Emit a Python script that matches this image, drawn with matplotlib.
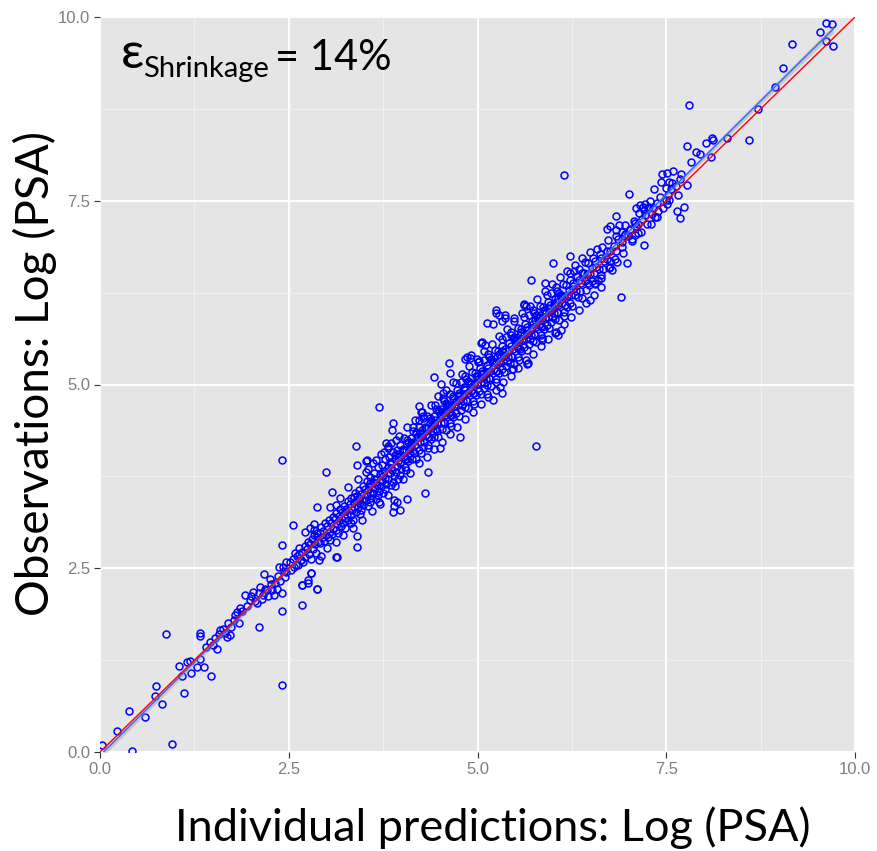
import numpy as np
import matplotlib
matplotlib.use("Agg")
import matplotlib.pyplot as plt
from matplotlib.ticker import MultipleLocator

# (individual prediction, observation) pairs, Log(PSA)
low_pts = [
    (0.03, 0.09), (0.23, 0.29), (0.38, 0.56), (0.42, 0.02), (0.60, 0.48), (0.74, 0.90),
    (0.73, 0.76), (0.82, 0.65), (0.87, 1.60), (0.96, 0.11), (1.11, 0.80), (1.04, 1.17),
    (1.09, 1.04), (1.15, 1.23), (1.19, 1.24), (1.21, 1.08), (1.28, 1.16), (1.32, 1.27),
    (1.38, 1.15), (1.47, 1.03), (1.32, 1.62), (1.33, 1.58), (1.41, 1.43), (1.46, 1.50),
    (1.52, 1.55), (1.55, 1.40), (1.59, 1.66), (1.63, 1.68), (1.68, 1.57), (1.72, 1.59),
    (1.70, 1.75), (1.77, 1.80), (1.81, 1.91), (1.85, 1.96), (1.84, 1.75), (1.92, 2.14),
    (1.99, 2.07), (2.03, 2.18), (2.08, 2.03), (2.12, 2.25), (2.16, 2.14), (2.21, 2.20),
    (2.27, 2.29), (2.30, 2.14), (2.34, 2.22), (2.37, 2.52), (2.43, 2.52), (2.45, 2.38),
    (2.41, 2.17), (2.47, 2.45), (2.11, 1.70), (2.41, 1.92), (2.41, 0.91), (2.17, 2.42),
    (2.41, 2.82), (2.41, 3.97), (1.95, 1.98), (2.00, 2.12), (2.05, 2.05), (2.10, 2.16),
    (2.14, 2.08), (2.18, 2.22), (2.22, 2.12), (2.25, 2.35), (2.28, 2.20), (2.32, 2.30),
    (2.36, 2.40), (2.39, 2.33), (2.44, 2.46), (2.46, 2.58), (1.88, 1.92), (1.79, 1.86),
    (1.74, 1.70), (1.65, 1.62), (1.50, 1.46), (1.57, 1.60),
]

mid_outliers = [
    (2.56, 3.09), (2.87, 2.22), (2.76, 2.34), (2.66, 2.61), (2.72, 3.00), (2.78, 3.05),
    (2.83, 3.10), (2.87, 2.98), (2.99, 3.81), (3.39, 4.16), (3.41, 3.91), (3.52, 3.96),
    (3.07, 3.54), (2.87, 3.34), (3.14, 2.65), (3.41, 2.79), (3.41, 2.94), (2.68, 2.27),
    (2.75, 2.30), (2.79, 2.44), (3.88, 3.27), (3.90, 3.35), (3.89, 3.43), (3.71, 3.37),
    (3.70, 4.70), (5.78, 4.16), (4.35, 3.81), (4.50, 4.13), (4.77, 4.29), (4.42, 5.10),
    (4.62, 5.29), (4.63, 5.15), (4.83, 5.35), (4.92, 5.40), (5.01, 5.31), (5.25, 5.97),
    (5.37, 5.95), (5.48, 5.90), (5.13, 5.84), (5.21, 5.82), (5.61, 6.08), (5.64, 6.07),
    (5.66, 5.28), (5.47, 5.21), (5.30, 4.97), (5.32, 4.88), (5.20, 4.79), (5.13, 4.87),
    (5.06, 5.58), (4.90, 5.36), (4.22, 4.71), (4.25, 4.63), (4.28, 4.57), (3.88, 4.48),
    (3.87, 4.38), (3.79, 4.21), (3.82, 4.17), (3.53, 3.97), (4.52, 5.01), (4.54, 4.89),
    (4.31, 3.53), (4.06, 3.44), (3.94, 3.40), (3.97, 3.29), (5.05, 5.56), (5.10, 5.54),
    (4.86, 5.37), (2.68, 2.00), (2.67, 2.27), (2.88, 2.22), (2.80, 2.44), (2.90, 2.61),
    (3.00, 2.77), (3.13, 2.65), (2.93, 2.67),
]

band_a = [
    (2.51, 2.58), (2.53, 2.47), (2.55, 2.63), (2.57, 2.52), (2.58, 2.71), (2.59, 2.55),
    (2.61, 2.66), (2.62, 2.54), (2.64, 2.78), (2.66, 2.61), (2.68, 2.72), (2.69, 2.59), (2.63, 2.69),
    (2.71, 2.80), (2.72, 2.65), (2.74, 2.76), (2.75, 2.86), (2.77, 2.70), (2.78, 2.83), (2.79, 2.62),
    (2.81, 2.90), (2.82, 2.76), (2.84, 2.95), (2.85, 2.83), (2.86, 2.71), (2.88, 2.93), (2.89, 2.86), (2.83, 3.02),
    (2.91, 2.98), (2.92, 2.84), (2.93, 3.06), (2.95, 2.92), (2.96, 3.01), (2.97, 2.87), (2.98, 3.12), (2.99, 2.95),
    (3.01, 3.08), (3.02, 2.93), (3.03, 3.15), (3.04, 3.00), (3.06, 3.11), (3.07, 2.96), (3.08, 3.20), (3.09, 3.04), (3.05, 2.88),
    (3.11, 3.17), (3.12, 3.02), (3.13, 3.25), (3.14, 3.10), (3.15, 2.98), (3.16, 3.21), (3.17, 3.14), (3.18, 3.30), (3.19, 3.08), (3.12, 3.36),
    (3.21, 3.27), (3.22, 3.12), (3.23, 3.35), (3.24, 3.19), (3.25, 3.05), (3.26, 3.31), (3.27, 3.22), (3.28, 3.41), (3.29, 3.16), (3.24, 3.28),
    (3.31, 3.38), (3.32, 3.22), (3.33, 3.46), (3.34, 3.29), (3.35, 3.15), (3.36, 3.40), (3.37, 3.33), (3.38, 3.52), (3.39, 3.26), (3.33, 3.12), (3.36, 3.47),
    (3.41, 3.48), (3.42, 3.33), (3.43, 3.57), (3.44, 3.39), (3.45, 3.24), (3.46, 3.51), (3.47, 3.43), (3.48, 3.62), (3.49, 3.36), (3.43, 3.45), (3.46, 3.29),
    (3.51, 3.58), (3.52, 3.43), (3.53, 3.69), (3.54, 3.49), (3.55, 3.35), (3.56, 3.62), (3.57, 3.53), (3.58, 3.74), (3.59, 3.46), (3.52, 3.81), (3.55, 3.56), (3.58, 3.40),
    (3.61, 3.68), (3.62, 3.52), (3.63, 3.80), (3.64, 3.59), (3.65, 3.44), (3.66, 3.72), (3.67, 3.63), (3.68, 3.88), (3.69, 3.55), (3.62, 3.93), (3.65, 3.66), (3.68, 3.49),
    (3.71, 3.78), (3.72, 3.62), (3.73, 3.90), (3.74, 3.69), (3.75, 3.53), (3.76, 3.82), (3.77, 3.73), (3.78, 3.98), (3.79, 3.65), (3.72, 4.05), (3.75, 3.76), (3.78, 3.58),
    (3.81, 3.88), (3.82, 3.71), (3.83, 4.01), (3.84, 3.79), (3.85, 3.63), (3.86, 3.92), (3.87, 3.83), (3.88, 4.08), (3.89, 3.75), (3.82, 4.14), (3.85, 3.86), (3.88, 3.68), (3.84, 3.95),
    (3.91, 3.98), (3.92, 3.81), (3.93, 4.11), (3.94, 3.89), (3.95, 3.72), (3.96, 4.02), (3.97, 3.93), (3.98, 4.18), (3.99, 3.85), (3.92, 4.24), (3.95, 3.96), (3.98, 3.77), (3.94, 4.05),
    (4.01, 4.12), (4.02, 4.01), (4.03, 4.27), (4.04, 3.88), (4.05, 4.11), (4.06, 3.98), (4.07, 4.25), (4.08, 3.96), (4.09, 4.11), (4.02, 4.11), (4.05, 3.83), (4.08, 4.22), (4.04, 3.99),
    (4.11, 4.07), (4.12, 4.27), (4.13, 3.99), (4.14, 4.22), (4.15, 4.37), (4.16, 4.07), (4.17, 4.18), (4.18, 3.98), (4.19, 4.32), (4.12, 4.17), (4.15, 4.09), (4.18, 4.35), (4.14, 4.42),
    (4.21, 4.28), (4.22, 4.11), (4.23, 4.42), (4.24, 4.22), (4.25, 4.07), (4.26, 4.38), (4.27, 4.30), (4.28, 4.54), (4.29, 4.22), (4.22, 4.52), (4.25, 4.29), (4.28, 4.15), (4.24, 4.34),
    (4.31, 4.42), (4.32, 4.31), (4.33, 4.57), (4.34, 4.18), (4.35, 4.41), (4.36, 4.28), (4.37, 4.55), (4.38, 4.26), (4.39, 4.41), (4.32, 4.41), (4.35, 4.13), (4.38, 4.52), (4.34, 4.29),
    (4.41, 4.37), (4.42, 4.57), (4.43, 4.29), (4.44, 4.52), (4.45, 4.67), (4.46, 4.37), (4.47, 4.48), (4.48, 4.28), (4.49, 4.62), (4.42, 4.47), (4.45, 4.39), (4.48, 4.65), (4.44, 4.72),
]

band_b = [
    (4.51, 4.47), (4.52, 4.67), (4.53, 4.39), (4.54, 4.62), (4.55, 4.77), (4.56, 4.47), (4.57, 4.58), (4.58, 4.38), (4.59, 4.72), (4.52, 4.57), (4.55, 4.49), (4.58, 4.75), (4.54, 4.82),
    (4.61, 4.72), (4.62, 4.61), (4.63, 4.87), (4.64, 4.48), (4.65, 4.71), (4.66, 4.58), (4.67, 4.85), (4.68, 4.56), (4.69, 4.71), (4.62, 4.71), (4.65, 4.43), (4.68, 4.82), (4.64, 4.59),
    (4.71, 4.78), (4.72, 4.61), (4.73, 4.92), (4.74, 4.72), (4.75, 4.57), (4.76, 4.88), (4.77, 4.80), (4.78, 5.04), (4.79, 4.72), (4.72, 5.02), (4.75, 4.79), (4.78, 4.65), (4.74, 4.84),
    (4.81, 4.77), (4.82, 4.97), (4.83, 4.69), (4.84, 4.92), (4.85, 5.07), (4.86, 4.77), (4.87, 4.88), (4.88, 4.68), (4.89, 5.02), (4.82, 4.87), (4.85, 4.79), (4.88, 5.05), (4.84, 5.12),
    (4.91, 5.02), (4.92, 4.91), (4.93, 5.17), (4.94, 4.78), (4.95, 5.01), (4.96, 4.88), (4.97, 5.15), (4.98, 4.86), (4.99, 5.01), (4.92, 5.01), (4.95, 4.73), (4.98, 5.12), (4.94, 4.89),
    (5.01, 5.08), (5.02, 4.91), (5.03, 5.22), (5.04, 5.02), (5.05, 4.87), (5.06, 5.18), (5.07, 5.10), (5.08, 5.34), (5.09, 5.02), (5.02, 5.32), (5.05, 5.09), (5.08, 4.95), (5.04, 5.14),
    (5.11, 5.07), (5.12, 5.27), (5.13, 4.99), (5.14, 5.22), (5.15, 5.37), (5.16, 5.07), (5.17, 5.18), (5.18, 4.98), (5.19, 5.32), (5.12, 5.17), (5.15, 5.09), (5.18, 5.35), (5.14, 5.42),
    (5.21, 5.32), (5.22, 5.21), (5.23, 5.47), (5.24, 5.08), (5.25, 5.31), (5.26, 5.18), (5.27, 5.45), (5.28, 5.16), (5.29, 5.31), (5.22, 5.31), (5.25, 5.03), (5.28, 5.42), (5.24, 5.19),
    (5.31, 5.38), (5.32, 5.21), (5.33, 5.52), (5.34, 5.32), (5.35, 5.17), (5.36, 5.48), (5.37, 5.40), (5.38, 5.64), (5.39, 5.32), (5.32, 5.62), (5.35, 5.39), (5.38, 5.25), (5.34, 5.44),
    (5.41, 5.37), (5.42, 5.57), (5.43, 5.29), (5.44, 5.52), (5.45, 5.67), (5.46, 5.37), (5.47, 5.48), (5.48, 5.28), (5.49, 5.62), (5.42, 5.47), (5.45, 5.39), (5.48, 5.65), (5.44, 5.72),
    (5.51, 5.62), (5.52, 5.51), (5.53, 5.77), (5.54, 5.38), (5.55, 5.61), (5.56, 5.48), (5.57, 5.75), (5.58, 5.46), (5.59, 5.61), (5.52, 5.61), (5.55, 5.33), (5.58, 5.72), (5.54, 5.49),
    (5.61, 5.68), (5.62, 5.51), (5.63, 5.82), (5.64, 5.62), (5.65, 5.47), (5.66, 5.78), (5.67, 5.70), (5.68, 5.94), (5.69, 5.62), (5.62, 5.92), (5.65, 5.69), (5.68, 5.55), (5.64, 5.74),
    (5.71, 5.67), (5.72, 5.87), (5.73, 5.59), (5.74, 5.82), (5.75, 5.97), (5.76, 5.67), (5.77, 5.78), (5.78, 5.58), (5.79, 5.92), (5.72, 5.77), (5.75, 5.69), (5.78, 5.95), (5.74, 6.02),
    (5.81, 5.92), (5.82, 5.81), (5.83, 6.07), (5.84, 5.68), (5.85, 5.91), (5.86, 5.78), (5.87, 6.05), (5.88, 5.76), (5.89, 5.91), (5.82, 5.91), (5.85, 5.63), (5.88, 6.02), (5.84, 5.79),
    (5.91, 5.98), (5.92, 5.81), (5.93, 6.12), (5.94, 5.92), (5.95, 5.77), (5.96, 6.08), (5.97, 6.00), (5.98, 6.24), (5.99, 5.92), (5.92, 6.22), (5.95, 5.99), (5.98, 5.85), (5.94, 6.04),
    (6.01, 5.97), (6.02, 6.17), (6.03, 5.89), (6.04, 6.12), (6.05, 6.27), (6.06, 5.97), (6.07, 6.08), (6.08, 5.88), (6.09, 6.22), (6.02, 6.07), (6.05, 5.99), (6.08, 6.25), (6.04, 6.32),
    (6.11, 6.22), (6.12, 6.11), (6.13, 6.37), (6.14, 5.98), (6.15, 6.21), (6.16, 6.08), (6.17, 6.35), (6.18, 6.06), (6.19, 6.21), (6.12, 6.21), (6.15, 5.93),
    (6.21, 6.28), (6.22, 6.11), (6.23, 6.42), (6.24, 6.22), (6.25, 6.07), (6.26, 6.38), (6.27, 6.30), (6.28, 6.54), (6.29, 6.22), (6.22, 6.52),
    (6.31, 6.27), (6.32, 6.47), (6.33, 6.19), (6.34, 6.42), (6.35, 6.57), (6.36, 6.27), (6.37, 6.38), (6.38, 6.18), (6.39, 6.52),
    (6.41, 6.52), (6.42, 6.41), (6.43, 6.67), (6.44, 6.28), (6.45, 6.51), (6.46, 6.38), (6.47, 6.65), (6.48, 6.36), (6.49, 6.51),
    (6.51, 6.58), (6.52, 6.41), (6.53, 6.72), (6.54, 6.52), (6.55, 6.37), (6.56, 6.68), (6.57, 6.60), (6.58, 6.84),
    (6.61, 6.57), (6.62, 6.77), (6.63, 6.49), (6.64, 6.72), (6.65, 6.87), (6.66, 6.57), (6.67, 6.68),
    (6.71, 6.82), (6.72, 6.71), (6.73, 6.97), (6.74, 6.58), (6.75, 6.81), (6.76, 6.68),
    (6.81, 6.88), (6.82, 6.71), (6.83, 7.02), (6.84, 6.82), (6.85, 6.67), (6.86, 6.98),
    (6.91, 6.87), (6.92, 7.07), (6.93, 6.79), (6.94, 7.02), (6.95, 7.17),
]

band_c = [
    (3.05, 3.34), (3.12, 2.86), (3.18, 3.45), (3.22, 2.95), (3.28, 3.60), (3.35, 3.05),
    (3.42, 3.72), (3.47, 3.16), (3.55, 3.85), (3.60, 3.28), (3.66, 3.97), (3.70, 3.40),
    (3.76, 4.08), (3.81, 3.50), (3.86, 4.20), (3.91, 3.62), (3.96, 4.30), (4.01, 3.71),
    (4.07, 4.42), (4.11, 3.80), (4.17, 4.52), (4.22, 3.93), (4.27, 4.63), (4.33, 4.02),
    (4.38, 4.72), (4.43, 4.12), (4.48, 4.84), (4.53, 4.22), (4.58, 4.93), (4.63, 4.33),
    (4.68, 5.04), (4.73, 4.42), (4.79, 5.14), (4.84, 4.53), (4.89, 5.25), (4.94, 4.62),
    (4.99, 5.35), (5.04, 4.73), (5.09, 5.46), (5.14, 4.83), (5.19, 5.55), (5.24, 4.93),
    (5.29, 5.66), (5.34, 5.03), (5.39, 5.76), (5.44, 5.12), (5.49, 5.86), (5.54, 5.23),
    (5.59, 5.97), (5.64, 5.33), (5.69, 6.07), (5.74, 5.42), (5.79, 6.17), (5.84, 5.53),
    (5.89, 6.27), (5.94, 5.62), (5.99, 6.37), (6.04, 5.72), (6.09, 6.46), (6.14, 5.82),
    (6.19, 6.55), (6.24, 5.92), (6.29, 6.63), (6.34, 6.02), (6.39, 6.72), (6.44, 6.11),
    (6.49, 6.80), (6.54, 6.22), (3.57, 3.66), (3.63, 3.71), (3.91, 4.04), (4.12, 4.21),
    (4.37, 4.47), (4.58, 4.66), (4.82, 4.94), (5.07, 5.16), (5.33, 5.45), (5.56, 5.67),
    (5.83, 5.95), (6.06, 6.18), (6.26, 6.34), (3.74, 3.80), (4.00, 4.09), (4.26, 4.33),
    (4.51, 4.60), (4.76, 4.86), (5.01, 5.12), (5.26, 5.37), (5.51, 5.59), (5.76, 5.88),
    (6.01, 6.10),
]

upper_pts = [
    (6.90, 6.19), (6.49, 6.15), (6.64, 6.32), (6.98, 6.65), (7.20, 6.90), (6.23, 6.75),
    (6.00, 6.65), (5.71, 6.42), (5.89, 6.38), (5.62, 6.10), (5.29, 5.95), (5.25, 6.01),
    (5.32, 5.87), (5.36, 5.91), (5.67, 5.29), (5.46, 5.21), (5.86, 5.60), (6.02, 5.70),
    (6.07, 5.67), (6.10, 5.74), (6.83, 7.29), (6.72, 7.12), (6.76, 7.15), (6.84, 7.10),
    (6.88, 7.17), (7.10, 7.40), (7.15, 7.44), (7.19, 7.42), (6.75, 6.60), (6.78, 6.56),
    (6.60, 6.42), (6.64, 6.45), (6.56, 6.38), (6.15, 7.85), (7.01, 7.59), (7.77, 8.24),
    (7.83, 8.03), (7.89, 8.16), (7.95, 8.14), (8.02, 8.28), (8.11, 8.35), (8.12, 8.32),
    (8.09, 8.10), (8.30, 8.35), (8.60, 8.33), (7.59, 7.90), (7.51, 7.88), (7.44, 7.86),
    (7.53, 7.76), (7.68, 7.80), (7.57, 7.74), (7.43, 7.76), (7.50, 7.68), (7.78, 7.71),
    (7.34, 7.66), (7.64, 7.36), (7.73, 7.41), (7.68, 7.27), (7.54, 7.51), (7.51, 7.46),
    (7.50, 7.51), (7.39, 7.36), (7.38, 7.28), (7.31, 7.32), (7.30, 7.19), (7.22, 7.45),
    (7.26, 7.40), (7.28, 7.50), (7.20, 7.38), (6.95, 7.05), (7.02, 7.12), (7.05, 6.98),
    (7.08, 7.20), (6.92, 6.94), (7.12, 7.06), (6.99, 7.02), (7.10, 7.15), (7.80, 8.80),
    (7.70, 7.87), (8.71, 8.75), (8.94, 9.05), (9.04, 9.30), (9.16, 9.63), (9.54, 9.80),
    (9.62, 9.92), (9.70, 9.90), (9.62, 9.67), (9.71, 9.60),
]

tail_pts = [
    (7.02, 7.10), (7.05, 6.95), (7.07, 7.22), (7.09, 7.04), (7.12, 7.19), (7.14, 7.33),
    (7.16, 7.08), (7.18, 7.25), (7.22, 7.30), (7.25, 7.18), (7.27, 7.41), (7.32, 7.40),
    (7.35, 7.28), (7.38, 7.47), (7.42, 7.55), (7.46, 7.40), (7.52, 7.58), (7.56, 7.66),
    (7.63, 7.70), (7.66, 7.58),
]

axis_ticks = [0.0, 2.5, 5.0, 7.5, 10.0]
axis_tick_labels = ["0.0", "2.5", "5.0", "7.5", "10.0"]
x_title = "Individual predictions: Log (PSA)"
y_title = "Observations: Log (PSA)"
shrinkage_value = "14%"

LABEL_FONT = ["Lato", "Open Sans", "DejaVu Sans"]
TICK_FONT = ["Liberation Sans", "DejaVu Sans"]

pts = np.array(low_pts + mid_outliers + band_a + band_b + band_c + upper_pts + tail_pts)
pred, obs = pts[:, 0], pts[:, 1]

W, H = 877, 851
fig = plt.figure(figsize=(W / 100, H / 100), dpi=100)
fig.patch.set_facecolor("white")
ax = fig.add_axes([100 / W, 1 - 752 / H, 755 / W, 735 / H])
ax.set_facecolor("#E5E5E5")
for sp in ax.spines.values():
    sp.set_visible(False)

ax.set_xlim(0, 10)
ax.set_ylim(0, 10)
ax.set_xticks(axis_ticks)
ax.set_xticklabels(axis_tick_labels, family=TICK_FONT)
ax.set_yticks(axis_ticks)
ax.set_yticklabels(axis_tick_labels, family=TICK_FONT)
ax.xaxis.set_minor_locator(MultipleLocator(1.25))
ax.yaxis.set_minor_locator(MultipleLocator(1.25))
ax.set_axisbelow(True)
ax.grid(which="major", color="white", lw=1.5)
ax.grid(which="minor", color="#F2F2F2", lw=0.7)
ax.tick_params(which="major", length=4, width=0.8, color="#333333",
               labelcolor="#7F7F7F", labelsize=12, pad=3)
ax.tick_params(which="minor", length=0)

# observations vs individual predictions
ax.plot(pred, obs, ls="none", marker="o", mfc="none", mec="#0000FF",
        ms=5.0, mew=1.1, zorder=3)

# linear smoother with 95% confidence band
slope, icpt = np.polyfit(pred, obs, 1)
xs = np.linspace(pred.min(), pred.max(), 200)
fit = slope * xs + icpt
n = len(pred)
resid = obs - (slope * pred + icpt)
s = np.sqrt(np.sum(resid ** 2) / (n - 2))
sxx = np.sum((pred - pred.mean()) ** 2)
se = s * np.sqrt(1 / n + (xs - pred.mean()) ** 2 / sxx)
ax.fill_between(xs, fit - 1.96 * se, fit + 1.96 * se, color="#999999",
                alpha=0.4, lw=0, zorder=4)
ax.plot(xs, fit, color="#3366FF", lw=1.0, zorder=5)

# line of identity
ax.plot([0, 10], [0, 10], color="#FF0000", lw=1.0, zorder=6)

# shrinkage annotation
ax.text(21 / 755, (752 - 68) / 735, "ε", transform=ax.transAxes,
        fontsize=37, family=LABEL_FONT, va="baseline", ha="left", zorder=7)
ax.text(43 / 755, (752 - 77) / 735, "Shrinkage", transform=ax.transAxes,
        fontsize=21, family=LABEL_FONT, va="baseline", ha="left", zorder=7)
ax.text(175 / 755, (752 - 70) / 735, "= " + shrinkage_value, transform=ax.transAxes,
        fontsize=30, family=LABEL_FONT, va="baseline", ha="left", zorder=7)

# axis titles
fig.text(493 / W, 1 - 828 / H, x_title, fontsize=32.5, family=LABEL_FONT,
         ha="center", va="center")
fig.text(35 / W, 1 - 373 / H, y_title, fontsize=33, family=LABEL_FONT,
         ha="center", va="center", rotation=90)

fig.savefig("out.png", dpi=100, facecolor="white")
